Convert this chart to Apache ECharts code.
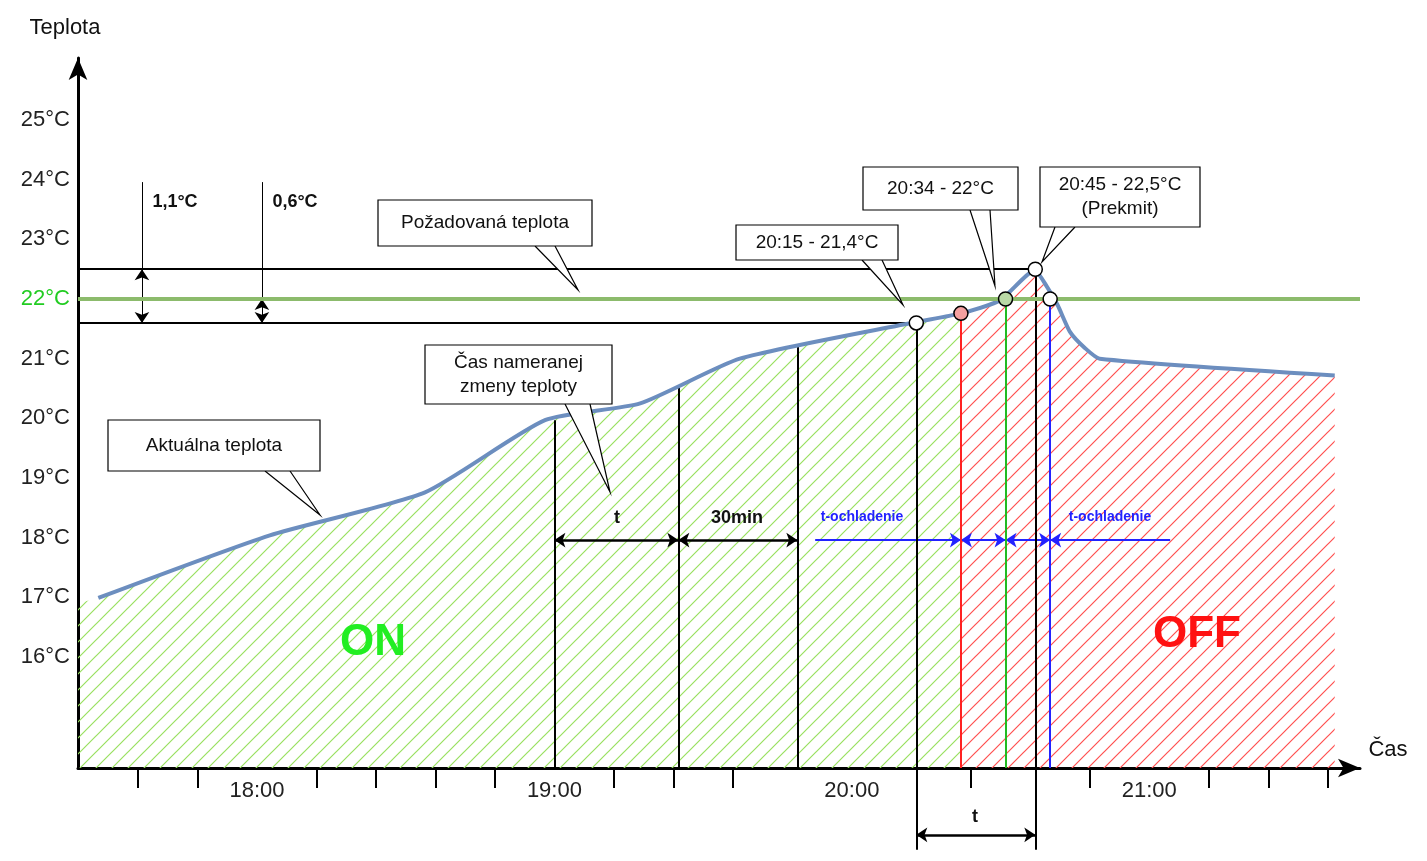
<!DOCTYPE html>
<html>
<head>
<meta charset="utf-8">
<script src="https://cdn.jsdelivr.net/npm/echarts@6/dist/echarts.min.js"></script>
<style>html,body{margin:0;padding:0;background:#fff}#chart{width:1427px;height:861px}</style>
</head>
<body>
<div id="chart"></div>
<script>
// time in minutes since midnight, temperature in °C
var curveX = [1048, 1082.6, 1113.9, 1138.1, 1157.3, 1177.4, 1212.7, 1222, 1229.9, 1236.9, 1239.4, 1241.5, 1244, 1247, 1250, 1297.4];
var curveY = [16.99, 18.04, 18.76, 19.97, 20.25, 21.0, 21.61, 21.76, 21.98, 22.48, 22.2, 21.9, 21.45, 21.18, 21.0, 20.72];
var yLabels = [16, 17, 18, 19, 20, 21, 22, 23, 24, 25];
var xLabels = [1080, 1140, 1200, 1260];
var xTicks = [1056, 1068, 1092, 1104, 1116, 1128, 1152, 1164, 1176, 1224, 1248, 1272, 1284, 1296];
var setpoint = 22, upper = 22.5, lower = 21.6;
var splitX = 1222; // heating switched off
var vLines = [
  { x: 1140, from: 19.97, to: 14.14, color: '#000' },
  { x: 1165, from: 20.55, to: 14.14, color: '#000' },
  { x: 1189, from: 21.2, to: 14.14, color: '#000' },
  { x: 1213, from: 21.6, to: 12.77, color: '#000' },
  { x: 1222, from: 21.76, to: 14.14, color: '#ff2222' },
  { x: 1231, from: 22.0, to: 14.14, color: '#22bb22' },
  { x: 1237, from: 22.5, to: 12.77, color: '#000' },
  { x: 1240, from: 22.05, to: 14.14, color: '#2222ff' }
];
var points = [
  [1213, 21.6, '#ffffff'], [1222, 21.76, '#f4a0a0'], [1231, 22.0, '#b9d9a6'],
  [1237, 22.5, '#ffffff'], [1240, 22.0, '#ffffff']
];

function hatch(color) {
  var c = document.createElement('canvas');
  c.width = 16; c.height = 16;
  var g = c.getContext('2d');
  g.strokeStyle = color; g.lineWidth = 1.2;
  g.beginPath();
  g.moveTo(0, 16); g.lineTo(16, 0);
  g.moveTo(-8, 8); g.lineTo(8, -8);
  g.moveTo(8, 24); g.lineTo(24, 8);
  g.stroke();
  return c;
}

var curve = curveX.map(function (x, i) { return [x, curveY[i]]; });
var greenArea = [[1043.9, 16.9]].concat(curve.filter(function (p) { return p[0] <= splitX; }));
var redArea = curve.filter(function (p) { return p[0] >= splitX; });

function seg(a, b, color, sym, w) {
  return { coords: [a, b], lineStyle: { color: color, width: w || 2, opacity: 1 }, symbol: sym || ['none', 'none'] };
}
var segs = [
  seg([1043.9, upper], [1237, upper], '#000'),
  seg([1043.9, lower], [1213, lower], '#000'),
  seg([1056.8, 23.96], [1056.8, upper], '#000', null, 1),
  seg([1056.8, upper], [1056.8, lower], '#000', ['arrow', 'arrow'], 1),
  seg([1081, 23.96], [1081, setpoint], '#000', null, 1),
  seg([1081, setpoint], [1081, lower], '#000', ['arrow', 'arrow'], 1),
  seg([1140, 17.96], [1165, 17.96], '#000', ['arrow', 'arrow'], 2.5),
  seg([1165, 17.96], [1189, 17.96], '#000', ['arrow', 'arrow'], 2.5),
  seg([1192.6, 17.96], [1222, 17.96], '#2222ff', ['none', 'arrow'], 2),
  seg([1222, 17.96], [1231, 17.96], '#2222ff', ['arrow', 'arrow'], 2),
  seg([1231, 17.96], [1240, 17.96], '#2222ff', ['arrow', 'arrow'], 2),
  seg([1240, 17.96], [1264.2, 17.96], '#2222ff', ['arrow', 'none'], 2),
  seg([1213, 13.02], [1237, 13.02], '#000', ['arrow', 'arrow'], 2.5)
];
vLines.forEach(function (v) { segs.push(seg([v.x, v.from], [v.x, v.to], v.color)); });

function box(x, y, w, h, text, tip, base) {
  return [
    { type: 'polyline', z: 100, shape: { points: [[base[0], y + h], tip, [base[1], y + h]] }, style: { stroke: '#000', fill: '#fff', lineWidth: 1.2 } },
    { type: 'rect', z: 101, shape: { x: x, y: y, width: w, height: h }, style: { fill: '#fff', stroke: '#000', lineWidth: 1.2 } },
    { type: 'text', z: 102, x: x + w / 2, y: y + h / 2, style: { text: text, fontSize: 19, fontFamily: 'Arial', fill: '#111', align: 'center', verticalAlign: 'middle', lineHeight: 24 } }
  ];
}
function txt(x, y, t, size, color, bold) {
  return { type: 'text', z: 110, x: x, y: y, style: { text: t, fontSize: size, fill: color, fontFamily: 'Arial', fontWeight: bold ? 'bold' : 'normal', align: 'center', verticalAlign: 'middle' } };
}
var graphics = [].concat(
  box(378, 200, 214, 46, 'Požadovaná teplota', [578, 290], [535, 555]),
  box(108, 420, 212, 51, 'Aktuálna teplota', [320, 515], [265, 290]),
  box(425, 345, 187, 59, 'Čas nameranej\nzmeny teploty', [610, 492], [565, 590]),
  box(736, 225, 162, 35, '20:15 - 21,4°C', [903, 305], [862, 882]),
  box(863, 167, 155, 43, '20:34 - 22°C', [995, 286], [970, 990]),
  box(1040, 167, 160, 60, '20:45 - 22,5°C\n(Prekmit)', [1042, 262], [1055, 1075]),
  [
    txt(65, 28, 'Teplota', 22, '#111'),
    txt(1388, 750, 'Čas', 22, '#111'),
    txt(175, 202, '1,1°C', 18, '#111', true),
    txt(295, 202, '0,6°C', 18, '#111', true),
    txt(617, 518, 't', 18, '#111', true),
    txt(737, 518, '30min', 18, '#111', true),
    txt(862, 517, 't-ochladenie', 14, '#2222ff', true),
    txt(1110, 517, 't-ochladenie', 14, '#2222ff', true),
    txt(975, 817, 't', 18, '#111', true),
    txt(373, 643, 'ON', 44, '#22ee22', true),
    txt(1197, 635, 'OFF', 44, '#ff1111', true)
  ]
);

var chart = echarts.init(document.getElementById('chart'));
chart.setOption({
  animation: false,
  grid: { left: 78, right: 67, top: 58, bottom: 93 },
  xAxis: {
    type: 'value', min: 1043.9, max: 1302.5,
    axisLine: { lineStyle: { color: '#000', width: 3 }, symbol: ['none', 'arrow'], symbolSize: [14, 22] },
    axisTick: { show: true, customValues: xTicks, length: 20, lineStyle: { color: '#000', width: 2 } },
    axisLabel: {
      customValues: xLabels, fontSize: 22, color: '#222', margin: 12, fontFamily: 'Arial',
      formatter: function (v) { var h = Math.floor(v / 60), m = Math.round(v % 60); return h + ':' + (m < 10 ? '0' : '') + m; }
    },
    splitLine: { show: false }
  },
  yAxis: {
    type: 'value', min: 14.14, max: 26.04,
    axisLine: { show: true, lineStyle: { color: '#000', width: 3 }, symbol: ['none', 'arrow'], symbolSize: [14, 22] },
    axisTick: { show: false },
    axisLabel: {
      customValues: yLabels, fontSize: 22, margin: 8, fontFamily: 'Arial',
      formatter: function (v) { return v === 22 ? '{g|22°C}' : v + '°C'; },
      color: '#222', rich: { g: { color: '#22cc22', fontSize: 22, fontFamily: 'Arial' } }
    },
    splitLine: { show: false }
  },
  series: [
    { type: 'line', data: greenArea, symbol: 'none', lineStyle: { width: 0 }, areaStyle: { color: { image: hatch('#99e060'), repeat: 'repeat' }, opacity: 1 }, z: 1 },
    { type: 'line', data: redArea, symbol: 'none', lineStyle: { width: 0 }, areaStyle: { color: { image: hatch('#ff5050'), repeat: 'repeat' }, opacity: 1 }, z: 1 },
    {
      type: 'line', data: [], z: 2,
      markLine: { silent: true, symbol: 'none', label: { show: false }, lineStyle: { color: '#8cbb6c', width: 4, type: 'solid' }, data: [{ yAxis: setpoint }] }
    },
    { type: 'lines', coordinateSystem: 'cartesian2d', polyline: false, clip: false, symbolSize: 11, lineStyle: { opacity: 1 }, data: segs, z: 3 },
    { type: 'line', data: curve, symbol: 'none', smooth: 0.2, lineStyle: { color: '#6c8ebf', width: 4 }, z: 4 },
    {
      type: 'scatter', z: 5, symbolSize: 14,
      data: points.map(function (p) { return { value: [p[0], p[1]], itemStyle: { color: p[2], borderColor: '#000', borderWidth: 1.5, opacity: 1 } }; })
    }
  ],
  graphic: graphics
});
</script>
</body>
</html>
